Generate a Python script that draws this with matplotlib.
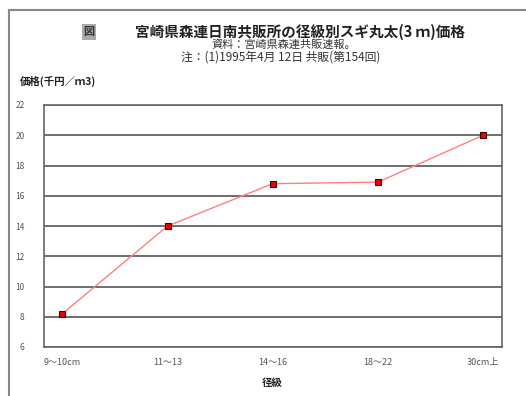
import matplotlib
matplotlib.use("Agg")
import matplotlib.pyplot as plt
from matplotlib.lines import Line2D

plt.rcParams['font.family'] = ['Noto Sans CJK JP', 'DejaVu Sans']

# データ
categories = ["9～10cm", "11～13", "14～16", "18～22", "30cm上"]
prices = [8.2, 14.0, 16.8, 16.9, 20.0]
yticks = [6, 8, 10, 12, 14, 16, 18, 20, 22]

W, H = 526, 396
fig = plt.figure(figsize=(W / 100, H / 100), dpi=100)
ax = fig.add_axes([44 / W, 1 - 347 / H, (502 - 44) / W, (347 - 105) / H])

x = list(range(len(categories)))
ax.plot(x, prices, color='#ff8080', lw=1.0, zorder=3)
ax.plot(x, prices, ls='none', marker='s', ms=5, mfc='#ee0000', mec='#400000',
        mew=0.8, zorder=4)

ax.set_ylim(6, 22)
ax.set_xlim(-0.175, 4.18)
ax.set_yticks(yticks)
ax.set_xticks(x)
ax.set_xticklabels(categories)
ax.yaxis.grid(True, color='#555555', lw=1.2)
ax.set_axisbelow(True)
for s in ax.spines.values():
    s.set_color('#666666')
    s.set_linewidth(1.2)
ax.tick_params(axis='y', length=0, pad=14, labelsize=6, labelcolor='#555555')
ax.tick_params(axis='x', length=0, pad=8, labelsize=6.5, labelcolor='#555555')

# 外枠
fig.add_artist(Line2D([9 / W, 9 / W], [0, 1 - 10 / H], color='#888888', lw=1.5))
fig.add_artist(Line2D([9 / W, 1], [1 - 10 / H, 1 - 10 / H], color='#888888', lw=1.5))

# タイトル
fig.text(89 / W, 1 - 32 / H, "図", fontsize=8, fontweight='bold', color='#333333',
         ha='center', va='center',
         bbox=dict(boxstyle='square,pad=0.1', fc='#aaaaaa', ec='none'))
fig.text(300 / W, 1 - 32 / H, "宮崎県森連日南共販所の径級別スギ丸太(3 ｍ)価格",
         fontsize=10.5, fontweight='bold', ha='center', va='center', color='#222222')
fig.text(284 / W, 1 - 45 / H, "資料：宮崎県森連共販速報。", fontsize=8,
         ha='center', va='center', color='#333333')
fig.text(281 / W, 1 - 57 / H, "注：(1)1995年4月 12日 共販(第154回)", fontsize=8.5,
         ha='center', va='center', color='#333333')

fig.text(20 / W, 1 - 81 / H, "価格(千円／ｍ3)", fontsize=7.5, fontweight='bold',
         ha='left', va='center', color='#222222')
fig.text(272 / W, 1 - 383 / H, "径級", fontsize=7.5, fontweight='bold',
         ha='center', va='center', color='#222222')

fig.savefig("out.png", dpi=100)
